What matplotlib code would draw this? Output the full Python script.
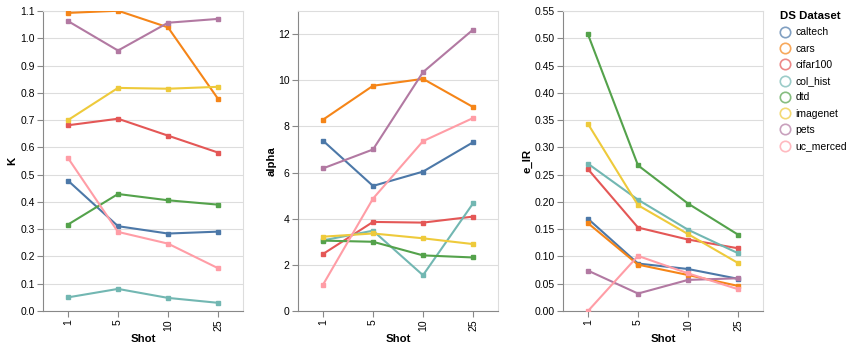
import matplotlib
matplotlib.use("Agg")
import matplotlib.pyplot as plt
from matplotlib.lines import Line2D

plt.rcParams['font.family'] = ['Liberation Sans', 'DejaVu Sans']

shots = ["1", "5", "10", "25"]
datasets = ["caltech", "cars", "cifar100", "col_hist", "dtd", "imagenet", "pets", "uc_merced"]
colors = ["#4c78a8", "#f58518", "#e45756", "#72b7b2", "#54a24b", "#eeca3b", "#b279a2", "#ff9da6"]

K = {
    "caltech":   [0.478, 0.311, 0.284, 0.291],
    "cars":      [1.093, 1.101, 1.040, 0.778],
    "cifar100":  [0.681, 0.705, 0.643, 0.581],
    "col_hist":  [0.050, 0.081, 0.048, 0.030],
    "dtd":       [0.317, 0.429, 0.406, 0.390],
    "imagenet":  [0.700, 0.818, 0.815, 0.822],
    "pets":      [1.063, 0.955, 1.057, 1.071],
    "uc_merced": [0.561, 0.290, 0.247, 0.157],
}
alpha = {
    "caltech":   [7.38, 5.42, 6.04, 7.31],
    "cars":      [8.29, 9.76, 10.06, 8.84],
    "cifar100":  [2.47, 3.86, 3.83, 4.09],
    "col_hist":  [3.06, 3.48, 1.55, 4.66],
    "dtd":       [3.05, 3.00, 2.41, 2.32],
    "imagenet":  [3.22, 3.36, 3.15, 2.90],
    "pets":      [6.18, 7.00, 10.35, 12.19],
    "uc_merced": [1.14, 4.87, 7.36, 8.36],
}
e_IR = {
    "caltech":   [0.169, 0.087, 0.077, 0.059],
    "cars":      [0.161, 0.085, 0.066, 0.046],
    "cifar100":  [0.260, 0.153, 0.131, 0.115],
    "col_hist":  [0.270, 0.204, 0.149, 0.106],
    "dtd":       [0.507, 0.267, 0.197, 0.140],
    "imagenet":  [0.343, 0.194, 0.141, 0.088],
    "pets":      [0.074, 0.032, 0.057, 0.060],
    "uc_merced": [0.000, 0.101, 0.069, 0.040],
}

K_ticks = [round(0.1 * i, 1) for i in range(12)]
alpha_ticks = [0, 2, 4, 6, 8, 10, 12]
eir_ticks = [round(0.05 * i, 2) for i in range(12)]

W, H = 852, 351
fig = plt.figure(figsize=(W / 100, H / 100), dpi=100)

panels = [
    (43, K, "K", K_ticks, (0, 1.1), "{:.1f}", 12),
    (298, alpha, "alpha", alpha_ticks, (0, 13), "{:d}", 272),
    (563, e_IR, "e_IR", eir_ticks, (0, 0.55), "{:.2f}", 527),
]

for left, data, name, ticks, ylim, fmt, ylab_x in panels:
    ax = fig.add_axes([left / W, (H - 311) / H, 200 / W, 300 / H])
    xs = list(range(len(shots)))
    for ds, c in zip(datasets, colors):
        ax.plot(xs, data[ds], color=c, lw=1.5, marker="s", ms=3.4, mec=c, mfc=c,
                solid_joinstyle="miter", zorder=3)
    ax.set_xlim(-0.5, len(shots) - 0.5)
    ax.set_ylim(*ylim)
    ax.set_xticks(xs)
    ax.set_xticklabels(shots, rotation=90, fontsize=7.5)
    ax.set_yticks(ticks)
    ax.set_yticklabels([fmt.format(t) for t in ticks], fontsize=7.5)
    ax.grid(axis="y", color="#dddddd", lw=0.8, zorder=0)
    ax.set_axisbelow(True)
    for s in ["top", "right"]:
        ax.spines[s].set_color("#dddddd")
        ax.spines[s].set_linewidth(0.8)
    for s in ["left", "bottom"]:
        ax.spines[s].set_color("#888888")
        ax.spines[s].set_linewidth(0.8)
    ax.tick_params(axis="both", colors="#888888", labelcolor="black", length=4, width=0.8, pad=2)
    ax.set_xlabel("Shot", fontsize=8.2, fontweight="bold", va="center")
    ax.xaxis.set_label_coords(0.5, -(339 - 311) / 300)
    ax.set_ylabel(name, fontsize=8.2, fontweight="bold", va="center")
    ax.yaxis.set_label_coords((ylab_x - left) / 200, 0.5)

handles = [Line2D([], [], ls="none", marker="o", ms=7.5, mfc="none", mec=c, mew=1.2, alpha=0.7)
           for c in colors]
leg = fig.legend(handles, datasets, loc="upper left", bbox_to_anchor=(776 / W, 1 - 7 / H),
                 frameon=False, title="DS Dataset", fontsize=7.5, handlelength=1.0,
                 handletextpad=0.45, labelspacing=0.6, borderaxespad=0, alignment="left",
                 title_fontproperties={"weight": "bold", "size": 8.2})

fig.savefig("out.png", dpi=100)
